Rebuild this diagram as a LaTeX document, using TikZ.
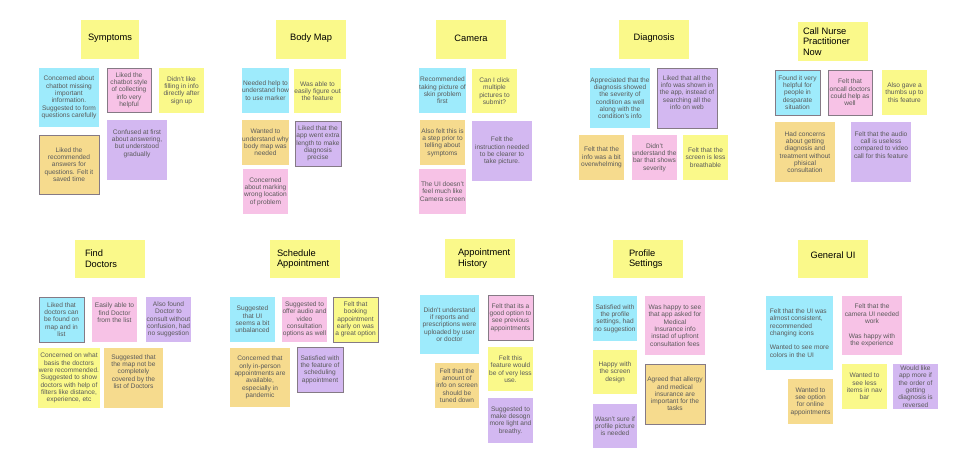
\documentclass[tikz,border=0pt]{standalone}
\usepackage{fontspec}
\setmainfont{Liberation Sans}
\definecolor{ncyan}{HTML}{9EEBFC}
\definecolor{npink}{HTML}{F7C2E6}
\definecolor{nyellow}{HTML}{FAF98A}
\definecolor{npurple}{HTML}{D3B8F1}
\definecolor{norange}{HTML}{F6DB8E}
\definecolor{nborder}{HTML}{857A85}
\definecolor{ntext}{HTML}{5A5A5A}
\tikzset{
  note/.style={draw=none, inner sep=0.5pt, align=center, text=ntext,
    font=\fontsize{6.6}{7.3}\selectfont},
  bord/.style={draw=nborder, line width=0.6pt},
  hdr/.style={fill=nyellow, inner sep=0pt},
  htext/.style={inner sep=0pt, text=black, align=center, font=\fontsize{9.3}{10.8}\selectfont},
}
% \stk[extra]{name}{colour}{x1}{y1}{x2}{y2}{text}
\newcommand\stk[8][]{%
  \pgfmathsetmacro\stkw{#6-#4}\pgfmathsetmacro\stkh{#7-#5}%
  \node[note,fill=#3,minimum width=\stkw pt,minimum height=\stkh pt,#1]
    (#2) at ({(#4+#6)/2},{-(#5+#7)/2}) {#8};}
% \hd{name}{x1}{y1}{x2}{y2}{anchor}{text options}{text}
\newcommand\hd[8]{%
  \pgfmathsetmacro\stkw{#4-#2}\pgfmathsetmacro\stkh{#5-#3}%
  \node[hdr,minimum width=\stkw pt,minimum height=\stkh pt]
    (#1) at ({(#2+#4)/2},{-(#3+#5)/2}) {};
  \node[htext,#7] (#1-t) at (#1.#6) {#8};}
\begin{document}
\begin{tikzpicture}[x=1pt,y=1pt]
\useasboundingbox (0,0) rectangle (978,-469);
\fill[white] (0,0) rectangle (978,-469);

% ---------------- Symptoms
\hd{hSym}{81}{20}{139}{59}{center}{yshift=1.5pt}{Symptoms}
\stk{sym1}{ncyan}{39}{68}{99}{127}{Concerned about\\chatbot missing\\important\\information.\\Suggested to form\\questions carefully}
\stk[bord]{sym2}{npink}{107}{68}{151}{112}{Liked the\\chatbot style\\of collecting\\info very\\helpful}
\stk{sym3}{nyellow}{159}{68}{204}{113}{Didn't like\\filling in info\\directly after\\sign up}
\stk[bord]{sym4}{norange}{39}{135}{99}{194}{Liked the\\recommended\\answers for\\questions. Felt it\\saved time}
\stk{sym5}{npurple}{107}{120}{167}{180}{Confused at first\\about answering,\\but understood\\gradually\\[7.3pt]}

% ---------------- Body Map
\hd{hBody}{276}{20}{346}{59}{center}{yshift=1.5pt}{Body Map}
\stk{bm1}{ncyan}{243}{68}{288}{113}{Needed help to\\understand how\\to use marker}
\stk{bm2}{nyellow}{295}{69}{340}{113}{Was able to\\easily figure out\\the feature}
\stk{bm3}{norange}{243}{120}{288}{165}{Wanted to\\understand why\\body map was\\needed}
\stk[bord]{bm4}{npurple}{295}{121}{341}{166}{Liked that the\\app went extra\\length to make\\diagnosis\\precise}
\stk{bm5}{npink}{243}{169}{288}{214}{Concerned\\about marking\\wrong location\\of problem}

% ---------------- Camera
\hd{hCam}{436}{20}{506}{59}{center}{yshift=1.5pt}{Camera}
\stk{cam1}{ncyan}{420}{68}{465}{113}{Recommended\\taking picture of\\skin problem\\first}
\stk{cam2}{nyellow}{472}{69}{517}{113}{Can I click\\multiple\\pictures to\\submit?}
\stk{cam3}{norange}{420}{120}{465}{165}{Also felt this is\\a step prior to\\telling about\\symptoms}
\stk{cam4}{npurple}{472}{121}{532}{181}{Felt the\\instruction needed\\to be clearer to\\take picture.}
\stk{cam5}{npink}{420}{169}{465}{214}{The UI doesn't\\feel much like\\Camera screen}

% ---------------- Diagnosis
\hd{hDia}{619}{20}{689}{59}{center}{yshift=1.5pt}{Diagnosis}
\stk{dia1}{ncyan}{590}{68}{650}{128}{Appreciated that the\\diagnosis showed\\the severity of\\condition as well\\along with the\\condition's info}
\stk[bord]{dia2}{npurple}{657}{68}{717}{128}{Liked that all the\\info was shown in\\the app, instead of\\searching all the\\info on web\\[4pt]}
\stk{dia3}{norange}{579}{135}{624}{180}{Felt that the\\info was a bit\\overwhelming}
\stk{dia4}{npink}{632}{135}{677}{180}{Didn't\\understand the\\bar that shows\\severity}
\stk{dia5}{nyellow}{683}{135}{728}{180}{Felt that the\\screen is less\\breathable}

% ---------------- Call Nurse Practitioner Now
\hd{hNur}{798}{22}{868}{61}{west}{anchor=west,xshift=5pt,align=left}{Call Nurse\\Practitioner\\Now}
\stk[bord]{nur1}{ncyan}{775}{70}{820}{115}{Found it very\\helpful for\\people in\\desparate\\situation}
\stk[bord]{nur2}{npink}{828}{70}{872}{115}{Felt that\\oncall doctors\\could help as\\well}
\stk{nur3}{nyellow}{882}{70}{927}{115}{Also gave a\\thumbs up to\\this feature}
\stk{nur4}{norange}{775}{122}{835}{182}{Had concerns\\about getting\\diagnosis and\\treatment without\\phisical\\consultation}
\stk{nur5}{npurple}{851}{122}{911}{182}{Felt that the audio\\call is useless\\compared to video\\call for this feature\\[7pt]}

% ---------------- Find Doctors
\hd{hFind}{75}{240}{145}{278}{west}{anchor=west,xshift=10pt,align=left}{Find\\Doctors}
\stk[bord]{fd1}{ncyan}{39}{297}{84}{342}{Liked that\\doctors can\\be found on\\map and in\\list}
\stk{fd2}{npink}{92}{297}{137}{342}{Easily able to\\find Doctor\\from the list\\[6pt]}
\stk{fd3}{npurple}{146}{297}{191}{342}{Also found\\Doctor to\\consult without\\confusion, had\\no suggestion}
\stk{fd4}{nyellow}{39}{348}{99}{408}{Concerned on what\\basis the doctors\\were recommended.\\Suggested to show\\doctors with help of\\filters like distance,\\experience, etc}
\stk{fd5}{norange}{104}{348}{163}{408}{Suggested that\\the map not be\\completely\\covered by the\\list of Doctors\\[6pt]}

% ---------------- Schedule Appointment
\hd{hSch}{270}{240}{340}{278}{west}{anchor=west,xshift=7pt,align=left}{Schedule\\Appointment}
\stk{sc1}{ncyan}{230}{297}{275}{342}{Suggested\\that UI\\seems a bit\\unbalanced}
\stk{sc2}{npink}{282}{297}{327}{342}{Suggested to\\offer audio and\\video\\consultation\\options as well}
\stk[bord]{sc3}{nyellow}{333}{297}{378}{342}{Felt that\\booking\\appointment\\early on was\\a great option}
\stk{sc4}{norange}{230}{348}{290}{407}{Concerned that\\only in-person\\appointments are\\available,\\especially in\\pandemic}
\stk[bord]{sc5}{npurple}{297}{347}{343}{392}{Satisfied with\\the feature of\\scheduling\\appointment}

% ---------------- Appointment History
\hd{hApp}{445}{239}{515}{278}{west}{anchor=west,xshift=13pt,align=left}{Appointment\\History}
\stk{ah1}{ncyan}{420}{295}{479}{354}{Didn't understand\\if reports and\\prescriptions were\\uploaded by user\\or doctor}
\stk[bord]{ah2}{npink}{488}{295}{533}{340}{Felt that its a\\good option to\\see previous\\appointments}
\stk{ah3}{nyellow}{488}{347}{533}{391}{Felt this\\feature would\\be of very less\\use.}
\stk{ah4}{norange}{435}{363}{479}{408}{Felt that the\\amount of\\info on screen\\should be\\tuned down}
\stk{ah5}{npurple}{488}{398}{533}{443}{Suggested to\\make desogn\\more light and\\breathy.}

% ---------------- Profile Settings
\hd{hPro}{613}{240}{683}{278}{west}{anchor=west,xshift=16pt,align=left}{Profile\\Settings}
\stk{ps1}{ncyan}{593}{296}{637}{341}{Satisfied with\\the profile\\settings, had\\no suggestion}
\stk{ps2}{npink}{645}{296}{705}{355}{Was happy to see\\that app asked for\\Medical\\Insurance info\\instad of upfront\\consultation fees}
\stk{ps3}{nyellow}{593}{350}{637}{394}{Happy with\\the screen\\design}
\stk[bord]{ps4}{norange}{645}{364}{705}{424}{Agreed that allergy\\and medical\\insurance are\\important for the\\tasks}
\stk{ps5}{npurple}{593}{404}{637}{448}{Wasn't sure if\\profile picture\\is needed}

% ---------------- General UI
\hd{hGen}{798}{240}{868}{278}{center}{yshift=4pt}{General UI}
\stk[align=left]{gu1}{ncyan}{766}{296}{833}{370}{Felt that the UI was\\almost consistent,\\recommended\\changing icons\\[7.3pt]Wanted to see more\\colors in the UI}
\stk{gu2}{npink}{842}{296}{902}{355}{Felt that the\\camera UI needed\\work\hspace{38pt}\\[7.3pt]Was happy with\\the experience}
\stk{gu3}{nyellow}{842}{364}{887}{409}{Wanted to\\see less\\items in nav\\bar}
\stk{gu4}{npurple}{893}{364}{938}{409}{Would like\\app more if\\the order of\\getting\\diagnosis is\\reversed}
\stk{gu5}{norange}{788}{379}{833}{424}{Wanted to\\see option\\for online\\appointments}
\end{tikzpicture}
\end{document}
